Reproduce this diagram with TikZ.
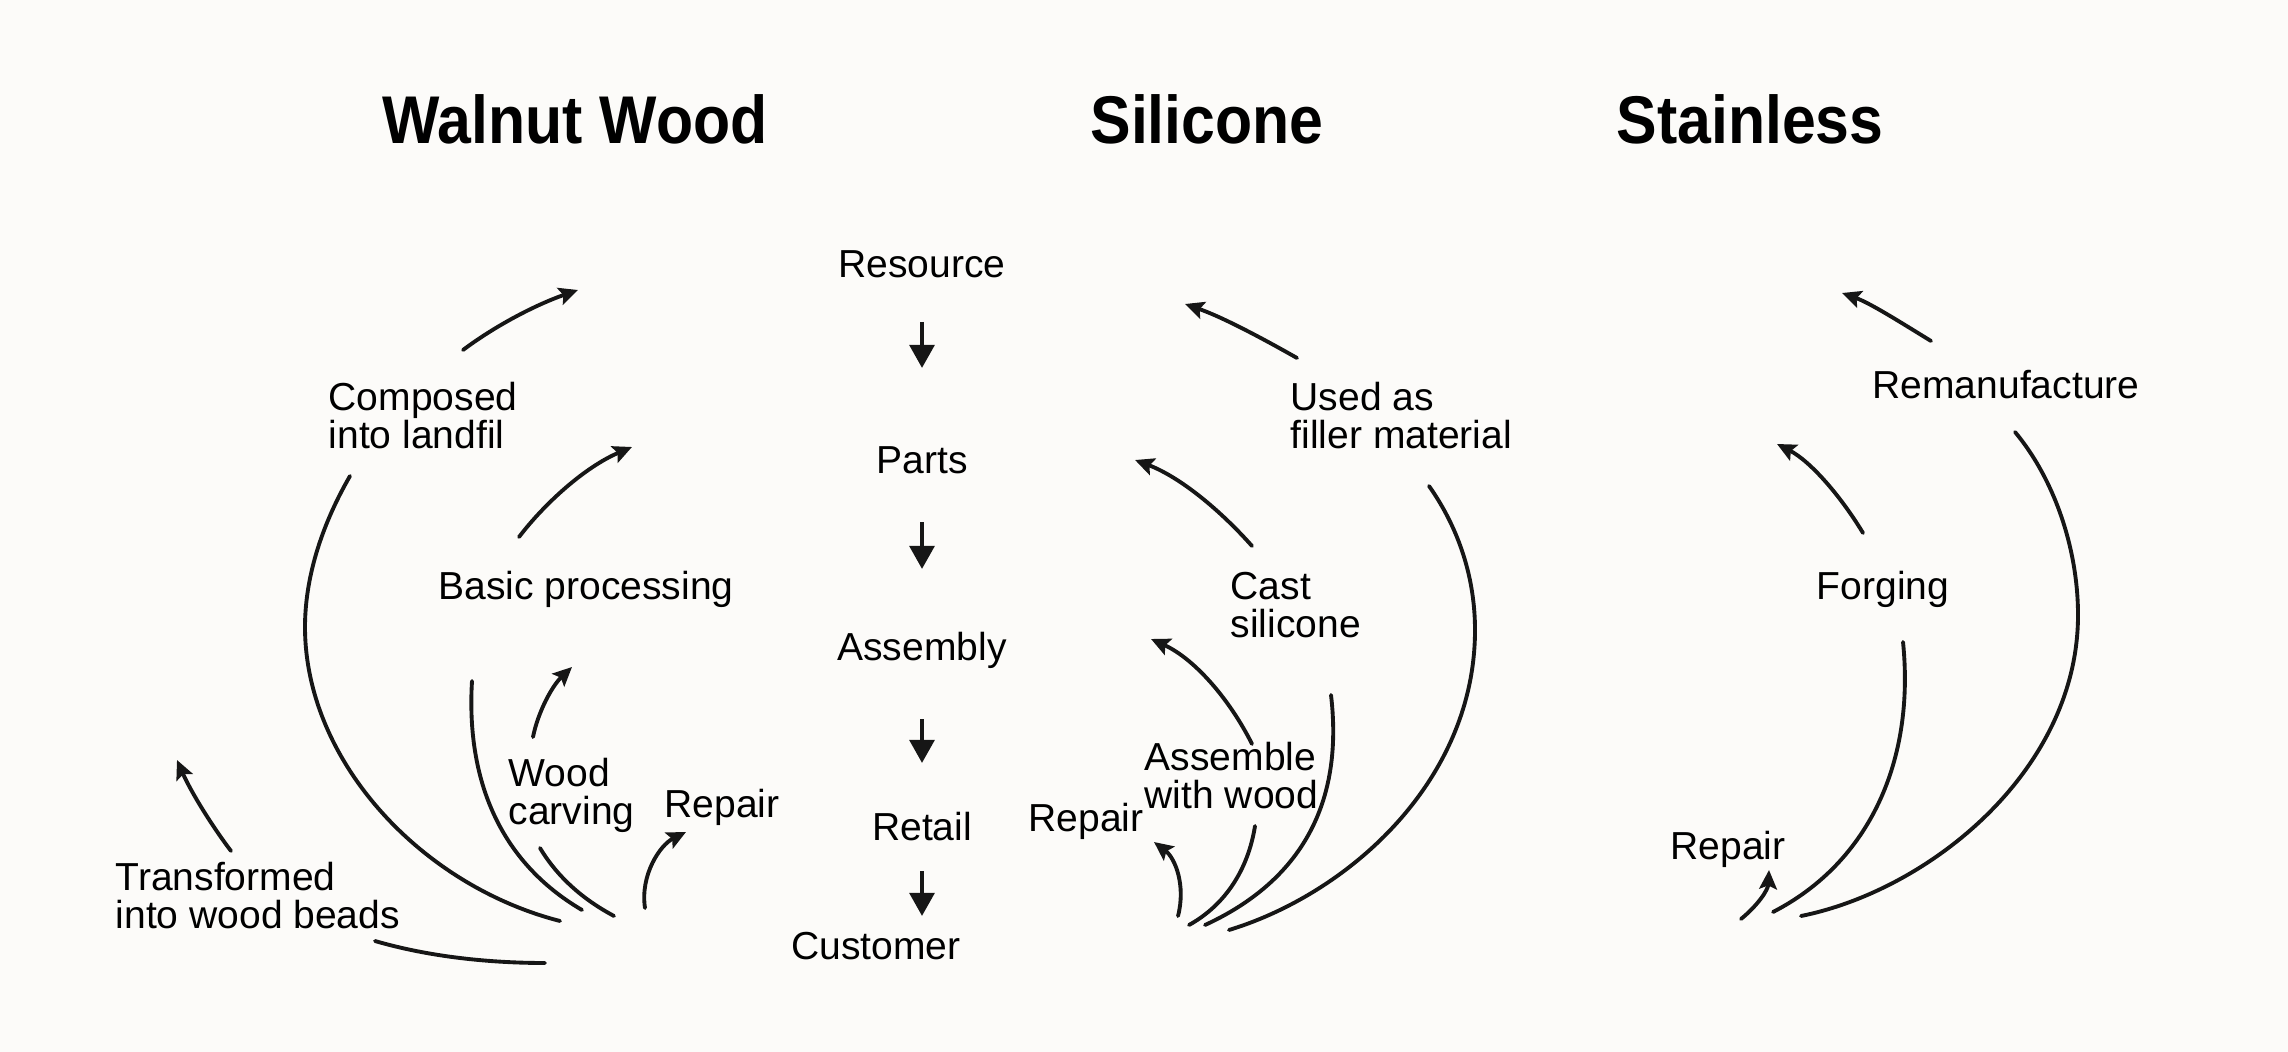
\documentclass[tikz,border=0pt]{standalone}
\usepackage{fontspec}
\setmainfont{Liberation Sans}
\newfontfamily\titlefont{Liberation Sans}[FakeStretch=0.9]
\usetikzlibrary{arrows.meta}
\definecolor{bg}{RGB}{252,251,249}
\definecolor{ink}{RGB}{22,22,22}
\tikzset{
  lbl/.style={font=\fontsize{11.1}{10.8}\selectfont, inner sep=0pt, text=black},
  ttl/.style={font=\titlefont\bfseries\fontsize{19.2}{20}\selectfont, inner sep=0pt, anchor=base},
  flow/.style={draw=ink, line width=1.1pt, line cap=round},
  flowarr/.style={flow, -{Stealth[length=5.4pt,width=5pt,inset=1pt]}},
  downarr/.style={draw=ink, line width=1.3pt, -{Triangle[length=6.6pt,width=7pt]}},
}
\begin{document}
\begin{tikzpicture}[x=0.01cm,y=-0.01cm]
\fill[bg] (0,0) rectangle (2288,1052);
\useasboundingbox (0,0) rectangle (2288,1052);

% titles
\node[ttl] (tw) at (575,144) {Walnut Wood};
\node[ttl] (ts) at (1207,144) {Silicone};
\node[ttl] (tst) at (1750,144) {Stainless};

% middle column
\node[lbl,anchor=base] (res) at (922,278) {Resource};
\node[lbl,anchor=base] (parts) at (922,474) {Parts};
\node[lbl,anchor=base] (assy) at (922,660) {Assembly};
\node[lbl,anchor=base] (retail) at (922,840) {Retail};
\node[lbl,anchor=base] (cust) at (876,959) {Customer};

\coordinate (d1s) at (922,322); \coordinate (d1e) at (922,368);
\coordinate (d2s) at (922,522); \coordinate (d2e) at (922,569);
\coordinate (d3s) at (922,719); \coordinate (d3e) at (922,763);
\coordinate (d4s) at (922,871); \coordinate (d4e) at (922,916);
\draw[downarr] (d1s) -- (d1e);
\draw[downarr] (d2s) -- (d2e);
\draw[downarr] (d3s) -- (d3e);
\draw[downarr] (d4s) -- (d4e);

% ---------- Walnut wood ----------
\node[lbl,anchor=west,align=left] (compo) at (328,416) {Composed\\into landfil};
\node[lbl,anchor=base] (basic) at (586,599) {Basic processing};
\node[lbl,anchor=west,align=left] (wood) at (508,795) {Wood\\carving};
\node[lbl,anchor=base] (repl) at (722,817) {Repair};
\node[lbl,anchor=west,align=left] (trans) at (115,896) {Transformed\\into wood beads};

\coordinate (wa1s) at (463,350); \coordinate (wa1e) at (578,290);
\draw[flowarr] (wa1s) .. controls (495,326) and (535,305) .. (wa1e);
\coordinate (wa2s) at (519,537); \coordinate (wa2e) at (632,447);
\draw[flowarr] (wa2s) .. controls (545,503) and (585,467) .. (wa2e);
\coordinate (wa3s) at (533,737); \coordinate (wa3e) at (572,667);
\draw[flowarr] (wa3s) .. controls (538,712) and (552,686) .. (wa3e);
\coordinate (wa4s) at (645,908); \coordinate (wa4e) at (686,832);
\draw[flowarr] (wa4s) .. controls (640,875) and (660,845) .. (wa4e);
\coordinate (wa5s) at (231,851); \coordinate (wa5e) at (177,760);
\draw[flowarr] (wa5s) .. controls (212,826) and (191,792) .. (wa5e);

\coordinate (wA1) at (350,476); \coordinate (wA2) at (305,627); \coordinate (wA3) at (560,921);
\draw[flow] (wA1) .. controls (320,528) and (305,580) .. (wA2) .. controls (305,760) and (420,885) .. (wA3);
\coordinate (wB1) at (472,681); \coordinate (wB2) at (582,910);
\draw[flow] (wB1) .. controls (466,780) and (500,862) .. (wB2);
\coordinate (wC1) at (540,848); \coordinate (wC2) at (614,916);
\draw[flow] (wC1) .. controls (558,878) and (584,900) .. (wC2);
\coordinate (wD1) at (375,941); \coordinate (wD2) at (545,963);
\draw[flow] (wD1) .. controls (430,957) and (490,963) .. (wD2);

% ---------- Silicone ----------
\node[lbl,anchor=west,align=left] (used) at (1290,416) {Used as\\filler material};
\node[lbl,anchor=west,align=left] (cast) at (1230,605) {Cast\\silicone};
\node[lbl,anchor=west,align=left] (assem) at (1144,776) {Assemble\\with wood};
\node[lbl,anchor=base] (reps) at (1086,831) {Repair};

\coordinate (sa1s) at (1297,358); \coordinate (sa1e) at (1185,304);
\draw[flowarr] (sa1s) .. controls (1260,337) and (1222,317) .. (sa1e);
\coordinate (sa2s) at (1252,546); \coordinate (sa2e) at (1135,460);
\draw[flowarr] (sa2s) .. controls (1220,510) and (1180,477) .. (sa2e);
\coordinate (sa3s) at (1252,744); \coordinate (sa3e) at (1151,639);
\draw[flowarr] (sa3s) .. controls (1230,700) and (1195,659) .. (sa3e);
\coordinate (sa4s) at (1178,916); \coordinate (sa4e) at (1154,842);
\draw[flowarr] (sa4s) .. controls (1186,885) and (1175,858) .. (sa4e);

\coordinate (sA1) at (1429,486); \coordinate (sA2) at (1475,630); \coordinate (sA3) at (1229,930);
\draw[flow] (sA1) .. controls (1460,530) and (1475,580) .. (sA2) .. controls (1475,780) and (1350,893) .. (sA3);
\coordinate (sB1) at (1331,695); \coordinate (sB2) at (1205,925);
\draw[flow] (sB1) .. controls (1341,780) and (1320,872) .. (sB2);
\coordinate (sC1) at (1255,826); \coordinate (sC2) at (1189,925);
\draw[flow] (sC1) .. controls (1248,870) and (1225,905) .. (sC2);

% ---------- Stainless ----------
\node[lbl,anchor=base] (reman) at (2006,399) {Remanufacture};
\node[lbl,anchor=base] (forg) at (1883,599) {Forging};
\node[lbl,anchor=base] (rept) at (1728,859) {Repair};

\coordinate (ta1s) at (1931,341); \coordinate (ta1e) at (1842,293);
\draw[flowarr] (ta1s) .. controls (1900,322) and (1870,303) .. (ta1e);
\coordinate (ta2s) at (1863,533); \coordinate (ta2e) at (1777,444);
\draw[flowarr] (ta2s) .. controls (1840,495) and (1810,461) .. (ta2e);
\coordinate (ta3s) at (1741,919); \coordinate (ta3e) at (1769,870);
\draw[flowarr] (ta3s) .. controls (1758,905) and (1768,890) .. (ta3e);

\coordinate (tA1) at (2015,432); \coordinate (tA2) at (2078,615); \coordinate (tA3) at (1801,916);
\draw[flow] (tA1) .. controls (2055,480) and (2078,550) .. (tA2) .. controls (2078,770) and (1930,890) .. (tA3);
\coordinate (tB1) at (1903,642); \coordinate (tB2) at (1773,912);
\draw[flow] (tB1) .. controls (1915,760) and (1870,862) .. (tB2);
\end{tikzpicture}
\end{document}
